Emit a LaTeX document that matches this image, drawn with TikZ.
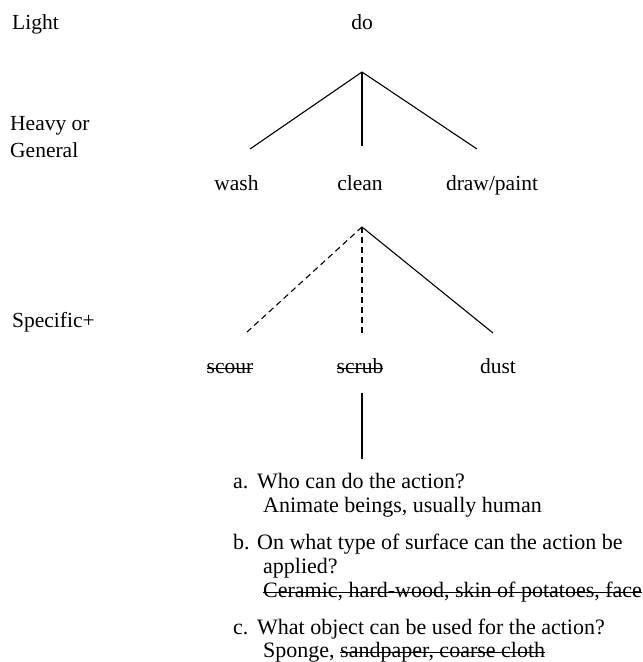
\documentclass[tikz,border=0pt]{standalone}
\usepackage{fontspec}
\setmainfont{Liberation Serif}
\newcommand\strk[1]{\setbox0\hbox{#1}\rlap{\rule[0.22em]{\wd0}{0.6pt}}\box0}
\tikzset{
  lbl/.style={font=\fontsize{21.5}{26}\selectfont, inner sep=0pt},
  lst/.style={font=\fontsize{22}{26}\selectfont, inner sep=0pt, anchor=base west},
  lft/.style={lbl, anchor=base west},
  ctr/.style={lbl, anchor=base},
  branch/.style={line width=1.1pt, black},
  optbranch/.style={branch, dash pattern=on 6pt off 4pt}
}
\begin{document}
\begin{tikzpicture}[x=1pt,y=-1pt]
\useasboundingbox (0,0) rectangle (643,662);
% level labels
\node[lft] (light) at (12,29) {Light};
\node[lft] (heavy) at (10,130) {Heavy or};
\node[lft] (general) at (10,157) {General};
\node[lft] (specific) at (12,327) {Specific+};
% tree 1
\node[ctr] (do) at (362,29) {do};
\coordinate (apexA) at (362,72);
\coordinate (endwash) at (250,149);
\coordinate (endclean) at (362,146);
\coordinate (enddraw) at (477,149);
\draw[branch] (apexA) -- (endwash);
\draw[branch] (apexA) -- (endclean);
\draw[branch] (apexA) -- (enddraw);
\node[ctr] (wash) at (236.5,190) {wash};
\node[ctr] (clean) at (360,190) {clean};
\node[ctr] (draw) at (492,190) {draw/paint};
% tree 2
\coordinate (apexB) at (362,227);
\coordinate (endscour) at (247,332);
\coordinate (endscrub) at (362,333);
\coordinate (enddust) at (493,333);
\draw[optbranch] (apexB) -- (endscour);
\draw[optbranch] (apexB) -- (endscrub);
\draw[branch] (apexB) -- (enddust);
\node[ctr] (scour) at (230,373) {\strk{scour}};
\node[ctr] (scrub) at (360,373) {\strk{scrub}};
\node[ctr] (dust) at (498,373) {dust};
% stem to questions
\coordinate (stemtop) at (362,393);
\coordinate (stembot) at (362,459);
\draw[branch] (stemtop) -- (stembot);
% questions
\node[lst] (qa) at (233,488) {a.};
\node[lst] (qatext) at (257,488) {Who can do the action?};
\node[lst] (aa) at (263,512) {Animate beings, usually human};
\node[lst] (qb) at (233,549) {b.};
\node[lst] (qbtext) at (257,549) {On what type of surface can the action be};
\node[lst] (qbtext2) at (263,573) {applied?};
\node[lst] (ab) at (263,597) {\strk{Ceramic, hard-wood, skin of potatoes, face}};
\node[lst] (qc) at (233,634) {c.};
\node[lst] (qctext) at (257,634) {What object can be used for the action?};
\node[lst] (ac) at (263,657) {Sponge, \strk{sandpaper, coarse cloth}};
\end{tikzpicture}
\end{document}
